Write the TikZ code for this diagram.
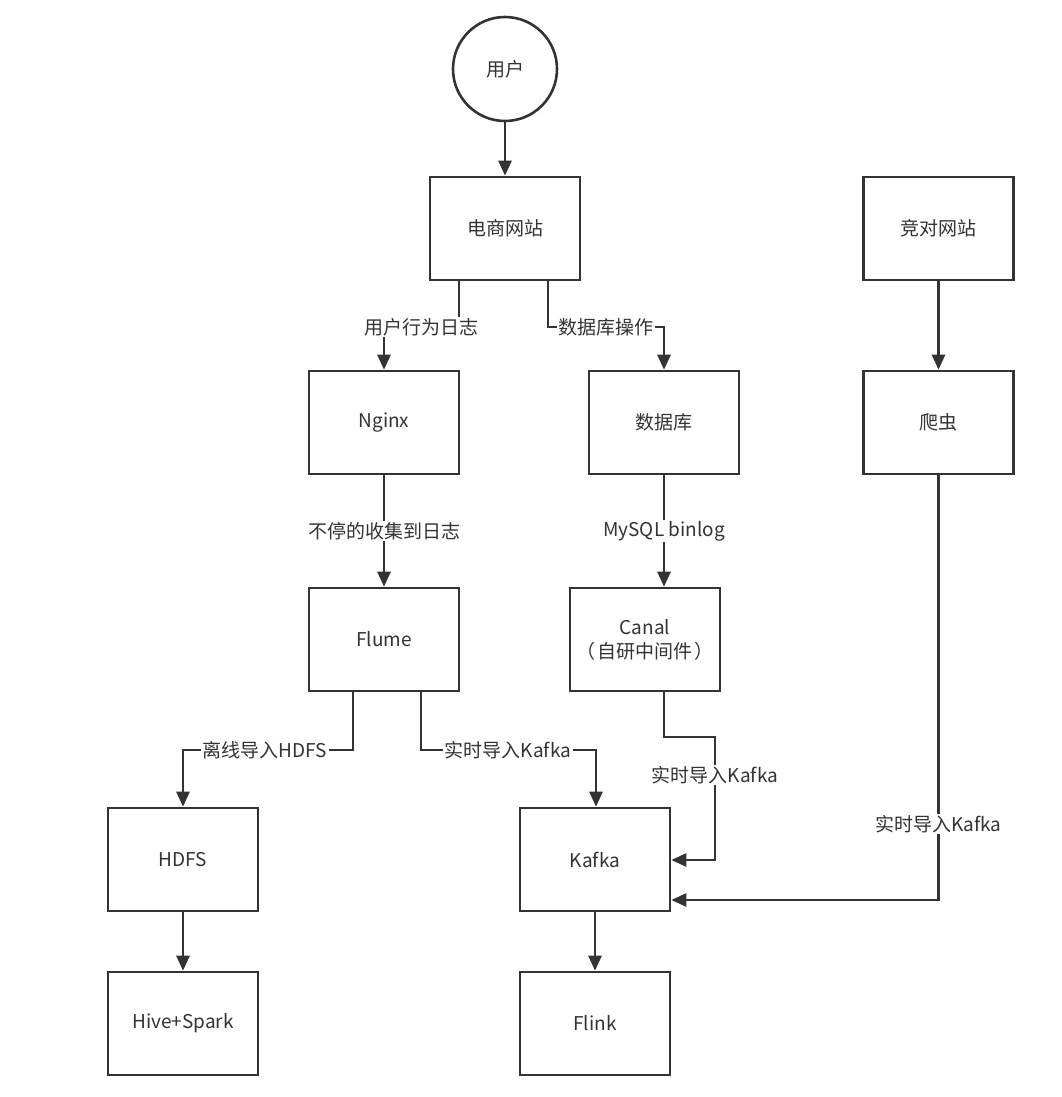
\documentclass[tikz,border=0pt]{standalone}
\usepackage{fontspec}
\setmainfont{Noto Sans CJK SC}
\usetikzlibrary{arrows.meta}
\definecolor{ln}{HTML}{333333}
\begin{document}
\begin{tikzpicture}[x=1pt,y=-1pt,
  box/.style={draw=ln,line width=2.6pt,minimum width=150pt,minimum height=103pt,inner sep=0pt,font=\fontsize{19}{24}\selectfont,text=ln,align=center},
  circ/.style={draw=ln,line width=2.6pt,circle,minimum size=104pt,inner sep=0pt,font=\fontsize{19}{24}\selectfont,text=ln},
  conn/.style={draw=ln,line width=2.6pt,-{Triangle[length=15pt,width=13pt]}},
  lab/.style={fill=white,inner sep=1.5pt,font=\fontsize{19}{24}\selectfont,text=ln}]
\useasboundingbox (0,0) rectangle (1062,1097);
\fill[white] (0,0) rectangle (1062,1097);
\node[circ] (user) at (505,69) {用户};
\node[box] (shop) at (505,228.5) {电商网站};
\node[box] (comp) at (938.5,228.5) {竞对网站};
\node[box] (nginx) at (384,422.5) {Nginx};
\node[box] (db) at (664,422.5) {数据库};
\node[box] (spider) at (938.5,422.5) {爬虫};
\node[box] (flume) at (384,639.5) {Flume};
\node[box] (canal) at (645,639.5) {Canal\\（\hspace{2pt}自研中间件\hspace{2pt}）};
\node[box] (hdfs) at (183,859.5) {HDFS};
\node[box] (kafka) at (595,859.5) {Kafka};
\node[box] (hive) at (183,1023.5) {Hive+Spark};
\node[box] (flink) at (595,1023.5) {Flink};

\coordinate (a1) at (459,327); \coordinate (a2) at (384,327);
\draw[conn] (a1 |- shop.south) -- (a1) -- (a2) -- (nginx.north -| a2);
\node[lab] at (421,327) {用户行为日志};

\coordinate (b1) at (548,327); \coordinate (b2) at (664,327);
\draw[conn] (b1 |- shop.south) -- (b1) -- (b2) -- (db.north -| b2);
\node[lab] at (606,327) {数据库操作};

\draw[conn] (user) -- (shop);
\draw[conn] (comp) -- (spider);
\draw[conn] (nginx) -- node[lab]{不停的收集到日志} (flume);
\draw[conn] (db) -- node[lab]{MySQL binlog} (db |- canal.north);

\coordinate (c1) at (353,750); \coordinate (c2) at (183,750);
\draw[conn] (c1 |- flume.south) -- (c1) -- (c2) -- (hdfs.north -| c2);
\node[lab] at (265,750) {离线导入HDFS};

\coordinate (d1) at (421,750); \coordinate (d2) at (596,750);
\draw[conn] (d1 |- flume.south) -- (d1) -- (d2) -- (kafka.north -| d2);
\node[lab] at (508,750) {实时导入Kafka};

\coordinate (e1) at (664,737); \coordinate (e2) at (715,737); \coordinate (e3) at (715,860);
\draw[conn] (e1 |- canal.south) -- (e1) -- (e2) -- (e3) -- (kafka.east |- e3);
\node[lab] at (715,775) {实时导入Kafka};

\coordinate (f1) at (938.5,900);
\draw[conn] (spider.south) -- (f1) -- (kafka.east |- f1);
\node[lab] at (938.5,824) {实时导入Kafka};

\draw[conn] (hdfs) -- (hive);
\draw[conn] (kafka) -- (flink);
\end{tikzpicture}
\end{document}
